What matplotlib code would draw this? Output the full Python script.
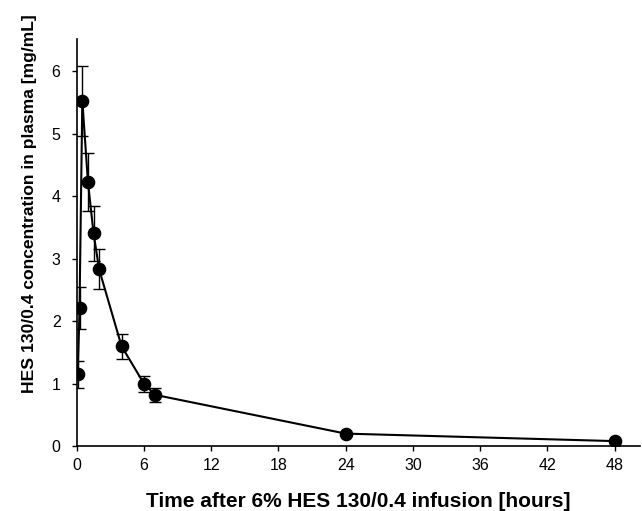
import numpy as np
import matplotlib.pyplot as plt
import matplotlib

matplotlib.rcParams['font.family'] = ['Liberation Sans', 'DejaVu Sans']

# time after infusion [h], mean plasma concentration [mg/mL], SD
time_h = [0.1, 0.25, 0.5, 1.0, 1.5, 2.0, 4.0, 6.0, 7.0, 24.0, 48.0]
conc = [1.15, 2.21, 5.53, 4.23, 3.41, 2.83, 1.60, 1.00, 0.82, 0.20, 0.08]
sd = [0.22, 0.33, 0.56, 0.46, 0.44, 0.32, 0.20, 0.13, 0.11, 0.0, 0.0]

xticks = [0, 6, 12, 18, 24, 30, 36, 42, 48]
yticks = [0, 1, 2, 3, 4, 5, 6]

fig = plt.figure(figsize=(6.42, 5.11), dpi=100)
ax = fig.add_axes([0.1195, 0.127, 0.878, 0.797])

ax.errorbar(time_h, conc, yerr=sd, color='black', marker='o', markersize=8.8,
            linewidth=1.5, elinewidth=1.0, capsize=4.5, capthick=1.0)

ax.set_xlim(0, 50.3)
ax.set_ylim(0, 6.52)
ax.set_xticks(xticks)
ax.set_yticks(yticks)
ax.tick_params(direction='out', length=3.6, width=1, labelsize=11.5)
ax.tick_params(axis='x', pad=5)
ax.tick_params(axis='y', pad=8)

for side in ['top', 'right']:
    ax.spines[side].set_visible(False)
for side in ['left', 'bottom']:
    ax.spines[side].set_linewidth(1.2)

ax.set_xlabel('Time after 6% HES 130/0.4 infusion [hours]', fontsize=15,
              fontweight='bold')
ax.set_ylabel('HES 130/0.4 concentration in plasma [mg/mL]', fontsize=12.6,
              fontweight='bold')
ax.xaxis.set_label_coords(0.5, -0.112)
ax.yaxis.set_label_coords(-0.071, 0.595)

fig.savefig('out.png', dpi=100)
